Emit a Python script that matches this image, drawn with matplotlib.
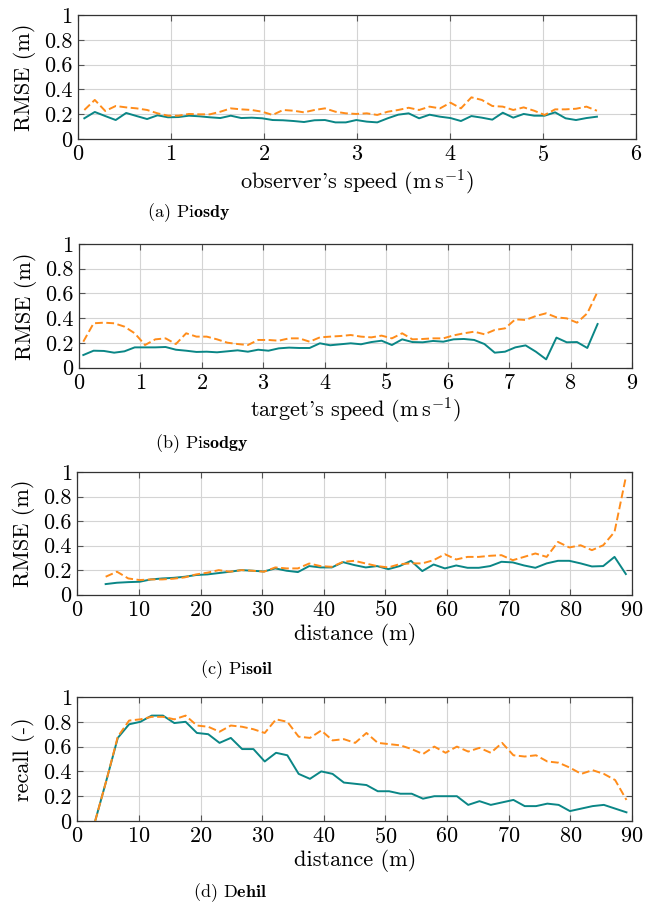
"""
    RMSE and recall plots, four stacked panels
"""
import numpy as np
import matplotlib
matplotlib.use("Agg")
import matplotlib.pyplot as plt

plt.rcParams['font.family'] = ['cmr10', 'DejaVu Serif']
plt.rcParams['mathtext.fontset'] = 'cm'
plt.rcParams['axes.formatter.use_mathtext'] = True
plt.rcParams['font.size'] = 16

TEAL = '#0a8686'
ORANGE = '#ff8c1a'

# (a) observer's speed
obs_speed = np.linspace(0.068, 5.58, 50)
obs_solid = [0.167, 0.218, 0.185, 0.153, 0.21, 0.185, 0.161, 0.191, 0.175, 0.177,
             0.188, 0.183, 0.175, 0.169, 0.188, 0.169, 0.172, 0.167, 0.153, 0.151,
             0.145, 0.137, 0.151, 0.153, 0.134, 0.134, 0.153, 0.140,
             0.134, 0.167, 0.196, 0.207, 0.167, 0.196, 0.18, 0.169, 0.145, 0.185,
             0.172, 0.156, 0.212, 0.172, 0.202, 0.188, 0.188, 0.215, 0.167, 0.153,
             0.169, 0.18]
obs_dashed = [0.234, 0.315, 0.226, 0.266, 0.255, 0.247, 0.234, 0.207, 0.188, 0.188,
              0.202, 0.199, 0.199, 0.220, 0.247, 0.239, 0.234, 0.220, 0.194, 0.234,
              0.228, 0.215, 0.234, 0.247, 0.220, 0.207, 0.202, 0.207,
              0.194, 0.220, 0.234, 0.252, 0.234, 0.261, 0.247, 0.293, 0.247, 0.336,
              0.315, 0.266, 0.261, 0.234, 0.255, 0.228, 0.194, 0.239, 0.239, 0.244,
              0.261, 0.228]

# (b) target's speed
tgt_speed = np.linspace(0.07, 8.44, 51)
tgt_solid = [0.101, 0.136, 0.134, 0.120, 0.131, 0.163, 0.163, 0.163, 0.166, 0.144,
             0.136, 0.126, 0.128, 0.123, 0.131, 0.139, 0.128, 0.144, 0.136, 0.155,
             0.161, 0.158, 0.158, 0.196, 0.180, 0.188, 0.196, 0.188, 0.206,
             0.217, 0.182, 0.228, 0.206, 0.204, 0.215, 0.209, 0.228, 0.231, 0.223,
             0.190, 0.120, 0.128, 0.163, 0.179, 0.128, 0.066, 0.242, 0.204, 0.206,
             0.158, 0.352]
tgt_dashed = [0.209, 0.358, 0.363, 0.358, 0.331, 0.277, 0.182, 0.228, 0.236, 0.190,
              0.277, 0.250, 0.250, 0.228, 0.201, 0.190, 0.182, 0.223, 0.223, 0.217,
              0.236, 0.236, 0.209, 0.244, 0.250, 0.255, 0.263, 0.250, 0.244,
              0.258, 0.236, 0.277, 0.228, 0.231, 0.236, 0.236, 0.260, 0.277, 0.290,
              0.269, 0.304, 0.317, 0.390, 0.385, 0.417, 0.439, 0.406, 0.398, 0.363,
              0.439, 0.614]

# (c) distance RMSE
dist_c = np.linspace(4.6, 89.0, 47)
dist_solid = [0.085, 0.096, 0.101, 0.104, 0.123, 0.131, 0.136, 0.145, 0.159, 0.164,
              0.175, 0.186, 0.199, 0.194, 0.188, 0.213, 0.194, 0.183, 0.232, 0.221,
              0.221, 0.264, 0.240, 0.221,
              0.232, 0.207, 0.232, 0.275, 0.191, 0.245, 0.213, 0.237, 0.218, 0.218,
              0.232, 0.267, 0.262, 0.237, 0.218, 0.254, 0.275, 0.275, 0.254, 0.229,
              0.232, 0.307, 0.167]
dist_dashed = [0.145, 0.186, 0.131, 0.118, 0.123, 0.123, 0.129, 0.140, 0.164, 0.178,
               0.199, 0.186, 0.199, 0.194, 0.186, 0.221, 0.213, 0.213, 0.253, 0.232,
               0.226, 0.267, 0.275, 0.253,
               0.232, 0.221, 0.248, 0.254, 0.254, 0.280, 0.329, 0.286, 0.307, 0.307,
               0.316, 0.321, 0.280, 0.307, 0.335, 0.307, 0.429, 0.384, 0.402, 0.362,
               0.402, 0.511, 0.958]

# (d) distance recall
dist_d = np.linspace(2.9, 89.1, 48)
recall_solid = [0.0, 0.33, 0.67, 0.78, 0.80, 0.85, 0.85, 0.79, 0.80, 0.71,
                0.70, 0.63, 0.67, 0.58, 0.58, 0.48, 0.55, 0.53, 0.38, 0.34,
                0.40, 0.38, 0.31, 0.30, 0.29, 0.24, 0.24, 0.22, 0.22, 0.18,
                0.20, 0.20, 0.20, 0.13, 0.16, 0.13, 0.15, 0.17, 0.12, 0.12,
                0.14, 0.13, 0.08, 0.10, 0.12, 0.13, 0.10, 0.07]
recall_dashed = [0.0, 0.33, 0.68, 0.81, 0.82, 0.84, 0.84, 0.82, 0.85, 0.77,
                 0.76, 0.72, 0.77, 0.76, 0.74, 0.71, 0.82, 0.80, 0.68, 0.67,
                 0.73, 0.65, 0.66, 0.63, 0.71, 0.63, 0.62, 0.61, 0.58, 0.54,
                 0.60, 0.55, 0.60, 0.56, 0.59, 0.55, 0.63, 0.53, 0.52, 0.53,
                 0.48, 0.47, 0.43, 0.38, 0.41, 0.38, 0.33, 0.17]

panels = [
    # x, solid, dashed, xmax, xticks, xlabel, ylabel, rect
    (obs_speed, obs_solid, obs_dashed, 6, range(0, 7),
     r"observer's speed ($\mathrm{m\,s^{-1}}$)", "RMSE (m)",
     [78 / 654, 1 - 139 / 905, 558 / 654, 124 / 905]),
    (tgt_speed, tgt_solid, tgt_dashed, 9, range(0, 10),
     r"target's speed ($\mathrm{m\,s^{-1}}$)", "RMSE (m)",
     [79 / 654, 1 - 367.5 / 905, 553 / 654, 123.5 / 905]),
    (dist_c, dist_solid, dist_dashed, 90, range(0, 100, 10),
     "distance (m)", "RMSE (m)",
     [77.3 / 654, 1 - 594.5 / 905, 554.7 / 654, 122.5 / 905]),
    (dist_d, recall_solid, recall_dashed, 90, range(0, 100, 10),
     "distance (m)", "recall (-)",
     [77.3 / 654, 1 - 821 / 905, 554.7 / 654, 124 / 905]),
]

# sub-captions as printed (glyphs of the word run together), left x and y in px
captions = [
    (r"(a) Pi$\mathbf{osdy}$", 147, 213),
    (r"(b) Pi$\mathbf{sodgy}$", 155, 444),
    (r"(c) Pi$\mathbf{soil}$", 200, 670),
    (r"(d) D$\mathbf{ehil}$", 193, 893),
]

fig = plt.figure(figsize=(6.54, 9.05), dpi=100)

for x, solid, dashed, xmax, xticks, xlabel, ylabel, rect in panels:
    ax = fig.add_axes(rect)
    ax.plot(x, solid, color=TEAL, lw=1.4, zorder=3)
    ax.plot(x, dashed, color=ORANGE, lw=1.4, dashes=(4, 1.8), zorder=3)
    ax.set_xlim(0, xmax)
    ax.set_ylim(0, 1)
    ax.set_xticks(list(xticks))
    ax.set_yticks([0, 0.2, 0.4, 0.6, 0.8, 1])
    ax.set_yticklabels(["0", "0.2", "0.4", "0.6", "0.8", "1"])
    ax.grid(True, color='#d4d4d4', lw=0.8)
    ax.set_axisbelow(True)
    ax.tick_params(direction='in', top=True, right=True, length=4,
                   width=0.8, color='#555555', labelsize=16, pad=4)
    for sp in ax.spines.values():
        sp.set_color('#333333')
        sp.set_linewidth(0.9)
    ax.set_xlabel(xlabel, fontsize=16, labelpad=2)
    ax.set_ylabel(ylabel, fontsize=16, labelpad=6)

for txt, px, py in captions:
    fig.text(px / 654, 1 - py / 905, txt, fontsize=13, va='center', ha='left')

fig.savefig("out.png", dpi=100)
